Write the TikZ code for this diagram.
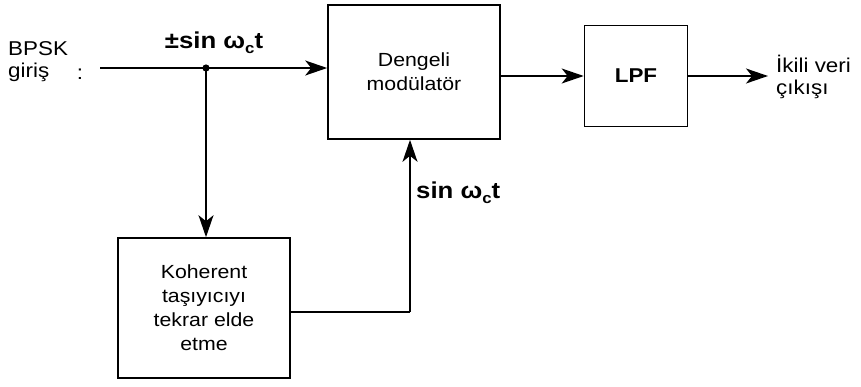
\documentclass[tikz,border=0pt]{standalone}
\usepackage{fontspec}
\setmainfont{Liberation Sans}[FakeStretch=1.12]
\usetikzlibrary{arrows.meta}
\newcommand{\omc}{ω\raisebox{-5pt}{\fontsize{15}{15}\selectfont c}}
\begin{document}
\begin{tikzpicture}[x=1pt,y=-1pt,
  blk/.style={draw,line width=1.6pt,inner sep=0pt,align=center,font=\fontsize{19}{24}\selectfont},
  sig/.style={line width=1.6pt,-{Stealth[length=22pt,width=15pt,inset=6pt]}},
  wire/.style={line width=1.6pt},
  lbl/.style={font=\fontsize{20}{22}\selectfont,align=left,inner sep=0pt},
  math/.style={font=\bfseries\fontsize{23}{25}\selectfont,inner sep=0pt}]
\useasboundingbox (0,0) rectangle (861,386);
\node[blk,minimum width=172pt,minimum height=134pt] (mod) at (414,72) {Dengeli\\modülatör};
\node[blk,minimum width=103pt,minimum height=101pt,font=\bfseries\fontsize{20}{22}\selectfont] (lpf) at (636,76) {LPF};
\node[blk,minimum width=172pt,minimum height=140pt] (coh) at (204,308) {Koherent\\taşıyıcıyı\\tekrar elde\\etme};
\node[lbl,anchor=west] (in) at (8,62) {BPSK\\giriş};
\node[lbl] (colon) at (80,74) {:};
\coordinate (start) at (100,68);
\coordinate (dot) at (206,68);
\fill (dot) circle (3.6pt);
\node[math] (pm) at (214,43) {±sin \omc t};
\draw[sig] (start) -- (mod.west |- start);
\draw[sig] (dot) -- (coh.north -| dot);
\coordinate (bend) at (410,312);
\draw[wire] (coh.east |- bend) -- (bend);
\draw[sig] (bend) -- (mod.south -| bend);
\node[math,anchor=west] (sn) at (416,193) {sin \omc t};
\draw[sig] (mod.east |- lpf) -- (lpf.west);
\coordinate (outend) at (768,76);
\draw[sig] (lpf.east) -- (outend);
\node[lbl,anchor=west] (out) at (776,77) {İkili veri\\çıkışı};
\end{tikzpicture}
\end{document}
